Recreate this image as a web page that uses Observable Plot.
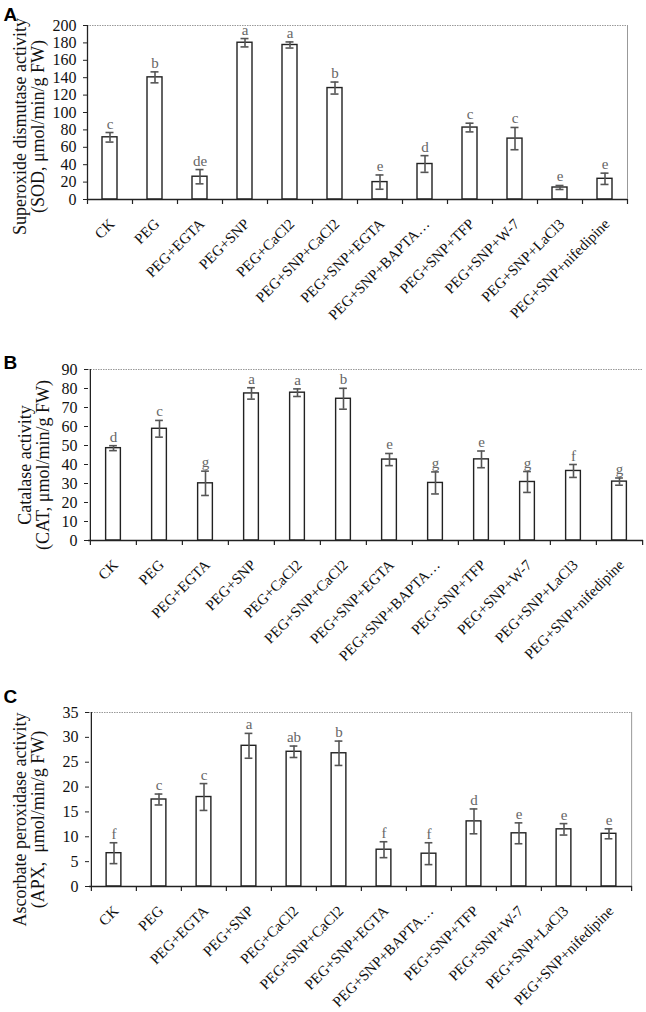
<!DOCTYPE html>
<html><head><meta charset="utf-8">
<script src="https://cdn.jsdelivr.net/npm/d3@7"></script>
<script src="https://cdn.jsdelivr.net/npm/@observablehq/plot@0.6"></script>
<style>
body{margin:0;background:#fff;}
#wrap{position:relative;width:646px;height:1012px;overflow:hidden;}
.panel{position:absolute;left:0;}
.panel svg{overflow:visible;}
</style></head><body><div id="wrap"></div>
<script>
const categories = ["CK","PEG","PEG+EGTA","PEG+SNP","PEG+CaCl2","PEG+SNP+CaCl2","PEG+SNP+EGTA","PEG+SNP+BAPTA…","PEG+SNP+TFP","PEG+SNP+W-7","PEG+SNP+LaCl3","PEG+SNP+nifedipine"];

const sodMean = [71.5, 140.4, 26.2, 180.2, 177.6, 128.1, 20.0, 40.8, 82.7, 70.0, 13.8, 23.8];
const sodErr = [5.5, 6.3, 8.2, 4.8, 3.5, 6.9, 8.2, 9.6, 5.0, 12.8, 2.3, 6.5];
const sodLetters = ["c","b","de","a","a","b","e","d","c","c","e","e"];
const sodTicks = [0,20,40,60,80,100,120,140,160,180,200];

const catMean = [48.6, 58.8, 30.1, 77.4, 77.8, 74.6, 42.6, 30.3, 42.7, 30.8, 36.6, 31.0];
const catErr = [1.3, 4.4, 6.4, 3.0, 2.0, 5.5, 3.2, 5.8, 4.4, 5.5, 3.4, 1.9];
const catLetters = ["d","c","g","a","a","b","e","g","e","g","f","g"];
const catTicks = [0,10,20,30,40,50,60,70,80,90];

const apxMean = [6.7, 17.5, 18.0, 28.3, 27.1, 26.8, 7.4, 6.6, 13.1, 10.7, 11.5, 10.6];
const apxErr = [2.1, 1.1, 2.7, 2.5, 1.15, 2.45, 1.6, 2.2, 2.5, 2.1, 1.15, 1.0];
const apxLetters = ["f","c","c","a","ab","b","f","f","d","e","e","e"];
const apxTicks = [0,5,10,15,20,25,30,35];

const serif = "'Liberation Serif','Times New Roman',serif";

function panel(o) {
  const W = 646;
  const data = categories.map((c, i) => ({c, v: o.values[i], lo: o.values[i] - o.errors[i], hi: o.values[i] + o.errors[i], l: o.letters[i]}));
  const step = (W - o.ml - o.mr) / categories.length;
  const barW = 15, capW = 8;
  const last = categories[categories.length - 1];
  const chart = Plot.plot({
    width: W, height: o.height,
    marginTop: o.mt, marginBottom: o.height - o.mt - o.ph, marginLeft: o.ml, marginRight: o.mr,
    style: {fontFamily: serif, fontSize: "15px", color: "#111", background: "transparent", overflow: "visible"},
    x: {domain: categories, padding: 0, axis: null},
    y: {domain: [0, o.yMax], axis: null},
    marks: [
      Plot.ruleY([o.yMax], {stroke: "#999", strokeWidth: 1, strokeDasharray: "1.5,1"}),
      o.rightBorder ? Plot.ruleX([last], {dx: step / 2, stroke: "#999", strokeWidth: 1}) : null,
      Plot.barY(data, {x: "c", y: "v", fill: "white", stroke: "#222", strokeWidth: 1.4, insetLeft: (step - barW) / 2, insetRight: (step - barW) / 2}),
      Plot.ruleX(data, {x: "c", y1: "lo", y2: "hi", stroke: "#555", strokeWidth: 1.6}),
      Plot.tickY(data, {x: "c", y: "lo", stroke: "#555", strokeWidth: 1.6, insetLeft: (step - capW) / 2, insetRight: (step - capW) / 2}),
      Plot.tickY(data, {x: "c", y: "hi", stroke: "#555", strokeWidth: 1.6, insetLeft: (step - capW) / 2, insetRight: (step - capW) / 2}),
      Plot.text(data, {x: "c", y: "hi", text: "l", dy: -4, lineAnchor: "bottom", fill: "#666", fontSize: 15}),
      Plot.ruleX([categories[0]], {dx: -step / 2, stroke: "#222", strokeWidth: 1.3}),
      Plot.ruleY([0], {stroke: "#222", strokeWidth: 1.3}),
      Plot.ruleX(categories, {x: d => d, dx: -step / 2, y1: 0, y2: 0, insetBottom: -5, stroke: "#222", strokeWidth: 1.2}),
      Plot.ruleX([last], {x: d => d, dx: step / 2, y1: 0, y2: 0, insetBottom: -5, stroke: "#222", strokeWidth: 1.2}),
      Plot.axisY({ticks: o.ticks, tickSize: 4, tickPadding: 7, fontSize: 16, label: null, tickFormat: d => d, stroke: "#222"}),
      Plot.text(categories, {x: d => d, frameAnchor: "bottom", dx: 2, dy: 22, rotate: -45, textAnchor: "end", lineAnchor: "middle", fontSize: 15, fill: "#111"}),
      Plot.text([o.title], {frameAnchor: "left", rotate: -90, dx: o.titleX - o.ml, dy: o.titleDy, fontSize: 18, lineAnchor: "middle", textAnchor: "middle", fill: "#111"}),
      Plot.text([o.letter], {frameAnchor: "top-left", dx: 3 - o.ml, dy: o.letterBase - o.mt, fontFamily: "'Liberation Sans',Arial,sans-serif", fontWeight: "bold", fontSize: 19, textAnchor: "start", lineAnchor: "bottom", fill: "#000"})
    ]
  });
  const div = document.createElement("div");
  div.className = "panel";
  div.style.top = o.top + "px";
  div.appendChild(chart);
  document.getElementById("wrap").appendChild(div);
}

panel({values: sodMean, errors: sodErr, letters: sodLetters, ticks: sodTicks, yMax: 200,
  title: "Superoxide dismutase activity\n(SOD, μmol/min/g FW)", letter: "A",
  top: 0, height: 344, mt: 25, ph: 174, ml: 87, mr: 19, rightBorder: true, titleX: 28.5, titleDy: 14, letterBase: 20});
panel({values: catMean, errors: catErr, letters: catLetters, ticks: catTicks, yMax: 90,
  title: "Catalase activity\n(CAT, μmol/min/g FW)", letter: "B",
  top: 344, height: 343, mt: 25, ph: 171, ml: 88, mr: 3, rightBorder: false, titleX: 34, titleDy: 10, letterBase: 24});
panel({values: apxMean, errors: apxErr, letters: apxLetters, ticks: apxTicks, yMax: 35,
  title: "Ascorbate peroxidase activity\n(APX,  μmol/min/g FW)", letter: "C",
  top: 687, height: 325, mt: 25, ph: 174, ml: 89, mr: 14, rightBorder: true, titleX: 29, titleDy: 20, letterBase: 15});
</script></body></html>
